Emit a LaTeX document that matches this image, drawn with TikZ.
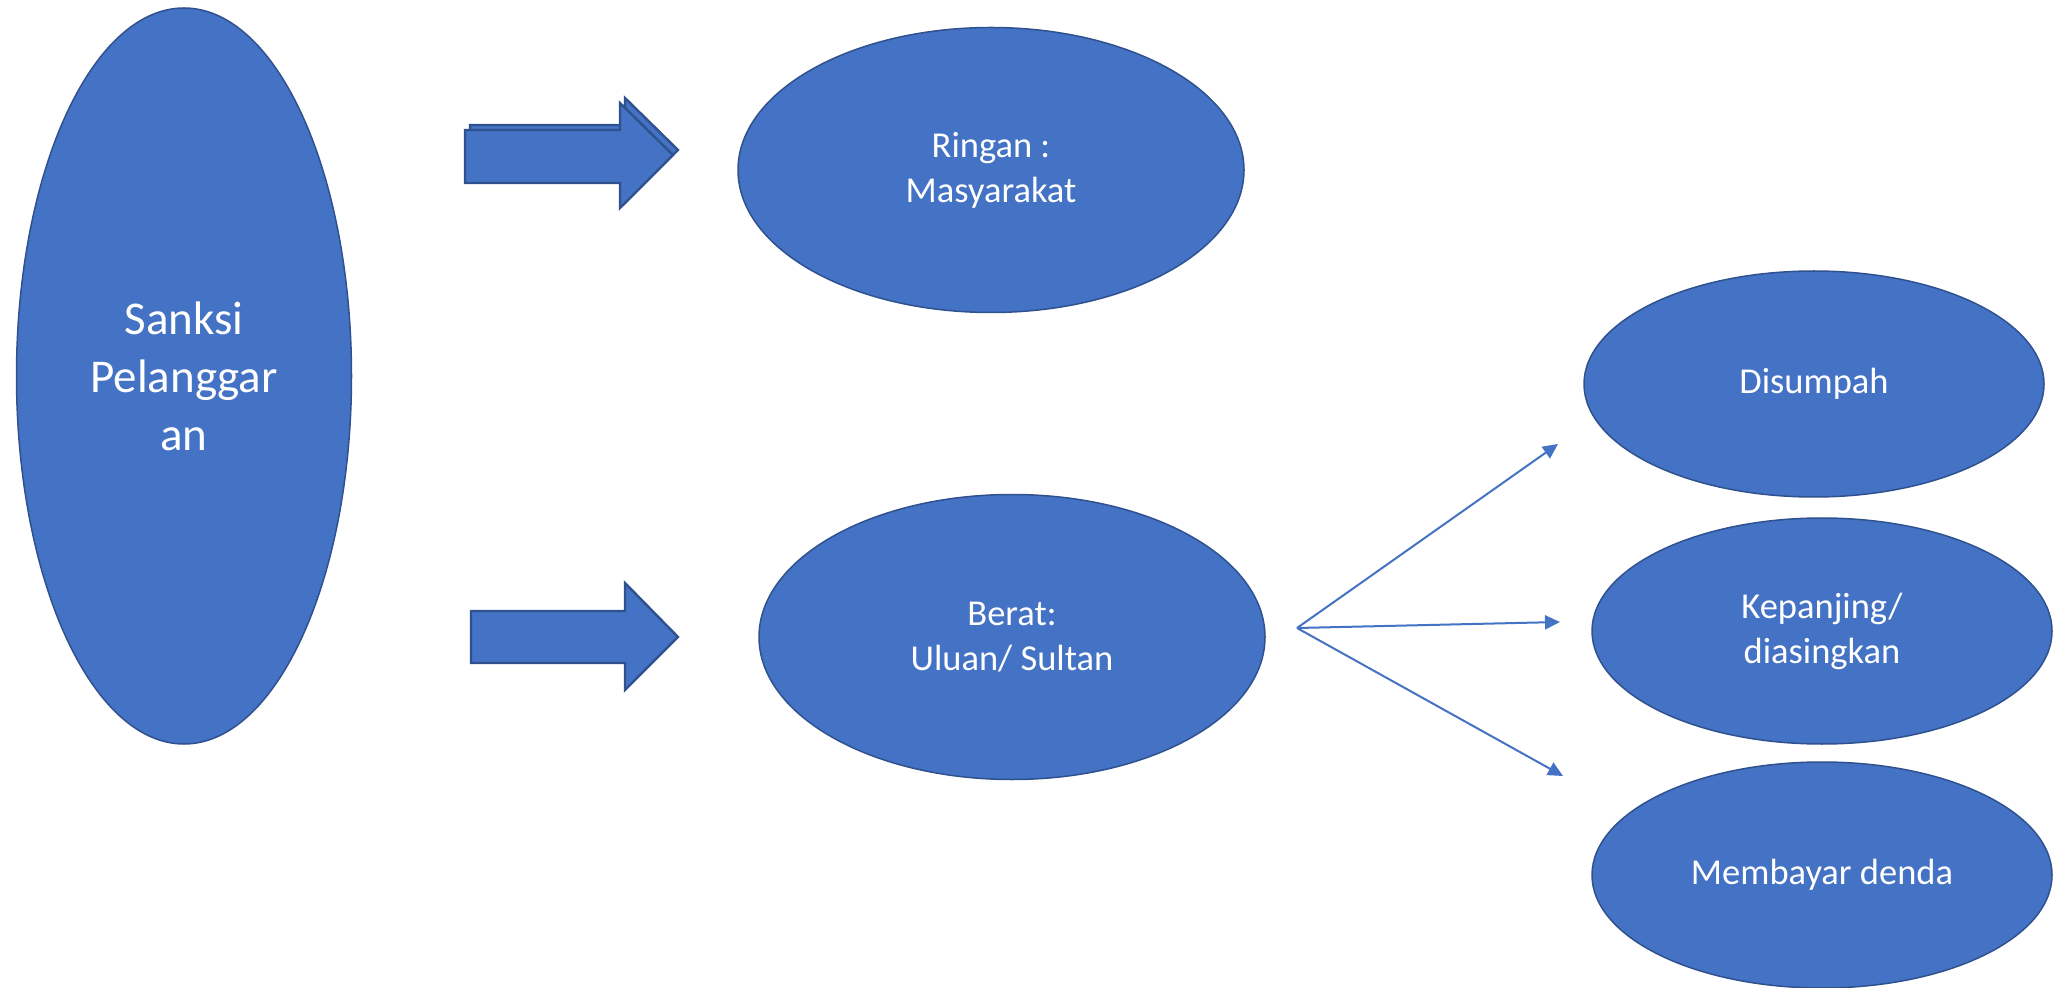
\documentclass[tikz,border=0pt]{standalone}
\usepackage{fontspec}
\setmainfont{Carlito}
\usetikzlibrary{shapes.geometric,arrows.meta}
\definecolor{fillblue}{HTML}{4472C4}
\definecolor{edgeblue}{HTML}{2F528F}
\begin{document}
\begin{tikzpicture}[x=0.5pt, y=-0.5pt,
    oval/.style={ellipse, draw=edgeblue, line width=0.75pt, fill=fillblue, text=white,
      inner sep=0pt, align=center, font=\fontsize{18.25}{22.5}\selectfont},
    bigarrow/.style={draw=edgeblue, line width=1.2pt, fill=fillblue, line join=miter},
    fanline/.style={draw=fillblue, line width=1pt, -{Triangle[length=7.5pt, width=7pt]}}]
    \useasboundingbox (0,0) rectangle (2060,988);
    \node[oval, minimum width=167.5pt, minimum height=368pt,
      font=\fontsize{23.5}{29}\selectfont] (sanksi) at (184,376) {Sanksi\\Pelanggar\\an};
    \node[oval, minimum width=253pt, minimum height=142.5pt] (ringan) at (991,170) {Ringan :\\Masyarakat};
    \node[oval, minimum width=253pt, minimum height=142.5pt] (berat) at (1012,637) {Berat:\\Uluan/ Sultan};
    \node[oval, minimum width=230pt, minimum height=113pt] (sumpah) at (1814,384) {Disumpah};
    \node[oval, minimum width=230pt, minimum height=113pt] (panjing) at (1822,631) {Kepanjing/\\diasingkan};
    \node[oval, minimum width=230pt, minimum height=113pt] (denda) at (1822,875) {Membayar denda};
    % block arrows
    \draw[bigarrow] (470,125) -- (625,125) -- (625,98) -- (678,150) -- (625,203) -- (625,178) -- (470,178) -- cycle;
    \draw[bigarrow] (465,130) -- (620,130) -- (620,103) -- (673,155) -- (620,208) -- (620,183) -- (465,183) -- cycle;
    \draw[bigarrow] (471,611) -- (625,611) -- (625,583) -- (678,637) -- (625,690) -- (625,663) -- (471,663) -- cycle;
    % fan from Berat
    \coordinate (fan) at (1297,628);
    \coordinate (toA) at (1558,444);
    \coordinate (toB) at (1560,622);
    \coordinate (toC) at (1563,776);
    \draw[fanline] (fan) -- (toA);
    \draw[fanline] (fan) -- (toB);
    \draw[fanline] (fan) -- (toC);
\end{tikzpicture}
\end{document}
